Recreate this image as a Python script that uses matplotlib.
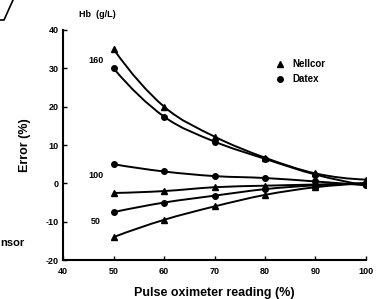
import matplotlib
matplotlib.use("Agg")
import matplotlib.pyplot as plt
from matplotlib.lines import Line2D
from matplotlib.path import Path
from matplotlib.patches import PathPatch

plt.rcParams['font.family'] = ['Liberation Sans', 'DejaVu Sans']
plt.rcParams['font.weight'] = 'bold'

# Pulse oximeter reading (%)
readings = [50, 60, 70, 80, 90, 100]

# Error (%) by Hb level
nellcor_160 = [35, 20, 12.2, 6.7, 2.6, 1.0]
datex_160 = [30, 17.4, 10.9, 6.4, 2.3, -0.5]
datex_100 = [5, 3.1, 1.9, 1.4, 0.5, -0.5]
nellcor_100 = [-2.5, -2, -1, -0.6, -0.3, 0]
datex_50 = [-7.5, -5, -3.2, -1.5, -0.5, 0]
nellcor_50 = [-14, -9.5, -6, -3, -1, 0]

hb_labels = ['160', '100', '50']
hb_label_y = [32, 2, -10]


def smooth_path(xs, ys):
    # Catmull-Rom curve through the points, drawn as cubic Bezier segments
    n = len(xs)
    # quadratic extrapolation for the phantom end points
    px = [3 * xs[0] - 3 * xs[1] + xs[2]] + list(xs) + [3 * xs[-1] - 3 * xs[-2] + xs[-3]]
    py = [3 * ys[0] - 3 * ys[1] + ys[2]] + list(ys) + [3 * ys[-1] - 3 * ys[-2] + ys[-3]]
    verts = [(xs[0], ys[0])]
    codes = [Path.MOVETO]
    for i in range(1, n):
        x0, y0 = px[i - 1], py[i - 1]
        x1, y1 = px[i], py[i]
        x2, y2 = px[i + 1], py[i + 1]
        x3, y3 = px[i + 2], py[i + 2]
        verts += [(x1 + (x2 - x0) / 6, y1 + (y2 - y0) / 6),
                  (x2 - (x3 - x1) / 6, y2 - (y3 - y1) / 6),
                  (x2, y2)]
        codes += [Path.CURVE4] * 3
    return Path(verts, codes)


fig = plt.figure(figsize=(3.8, 2.99), dpi=100)
ax = fig.add_axes([0.166, 0.130, 0.797, 0.770])

for ys in [nellcor_160, nellcor_100, nellcor_50, datex_160, datex_100, datex_50]:
    ax.add_patch(PathPatch(smooth_path(readings, ys), fill=False, ec='black', lw=1.4))
for ys in [nellcor_160, nellcor_100, nellcor_50]:
    ax.plot(readings, ys, color='black', ls='none', marker='^', ms=5)
for ys in [datex_160, datex_100, datex_50]:
    ax.plot(readings, ys, color='black', ls='none', marker='o', ms=4)

ax.set_xlim(40, 100)
ax.set_ylim(-20, 40)
ax.set_xticks([40, 50, 60, 70, 80, 90, 100])
ax.set_yticks([-20, -10, 0, 10, 20, 30, 40])
ax.set_yticklabels(['-20', '-10', '0', '10', '20', '30', '40'])
ax.tick_params(direction='in', length=3, width=1, labelsize=6.5)
ax.tick_params(axis='x', pad=5)
ax.tick_params(axis='y', pad=3)
for s in ['top', 'right']:
    ax.spines[s].set_visible(False)
for s in ['left', 'bottom']:
    ax.spines[s].set_linewidth(1.5)

ax.set_xlabel('Pulse oximeter reading (%)', fontsize=9, fontweight='bold', labelpad=8)
ax.set_ylabel('Error (%)', fontsize=9, fontweight='bold', labelpad=11)

for lab, y in zip(hb_labels, hb_label_y):
    ax.text(46.5, y, lab, fontsize=6.5, fontweight='bold', ha='center', va='center')
ax.text(46.8, 44, 'Hb  (g/L)', fontsize=6.5, fontweight='bold', ha='center', va='center',
        clip_on=False)

handles = [Line2D([], [], color='black', marker='^', ls='none', ms=5),
           Line2D([], [], color='black', marker='o', ls='none', ms=4)]
ax.legend(handles, ['Nellcor', 'Datex'], loc='upper left', bbox_to_anchor=(0.655, 0.91),
          frameon=False, handletextpad=0.3, labelspacing=0.5,
          prop={'weight': 'bold', 'size': 7})

# fragments of neighbouring figure
fig.add_artist(Line2D([0, 4 / 380, 13 / 380], [1 - 20 / 299, 1 - 20 / 299, 1.0],
                      color='black', lw=1.2))
fig.text(0, 1 - 243 / 299, 'nsor', fontsize=8, fontweight='bold', ha='left', va='center')

fig.savefig('out.png', dpi=100)
